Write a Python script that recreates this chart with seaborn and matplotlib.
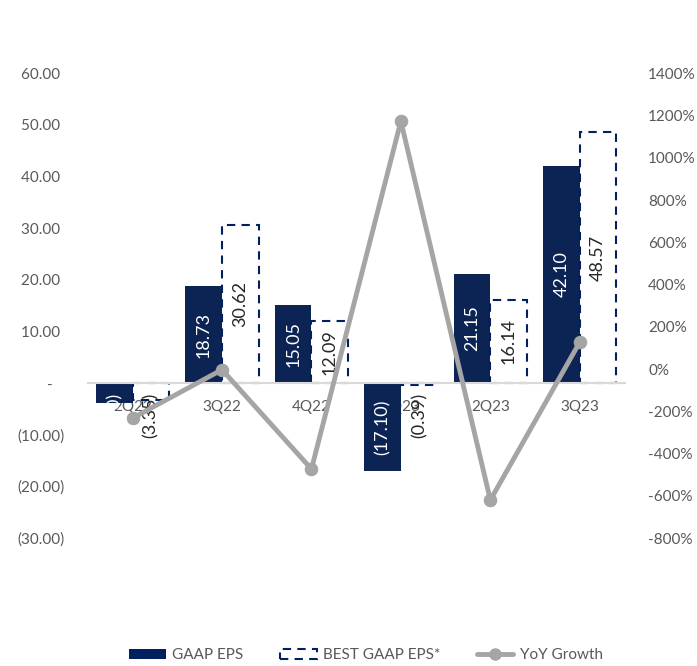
import pandas as pd
import numpy as np
import matplotlib.pyplot as plt
import seaborn as sns
from matplotlib.patches import Patch, Rectangle
from matplotlib.lines import Line2D

# chart data
quarters = ['2Q22', '3Q22', '4Q22', '1Q23', '2Q23', '3Q23']
gaap_eps = [-3.90, 18.73, 15.05, -17.10, 21.15, 42.10]
best_eps = [-3.35, 30.62, 12.09, -0.39, 16.14, 48.57]
yoy_growth = [-232, -3, -473, 1173, -620, 128]

left_ticks = [-30, -20, -10, 0, 10, 20, 30, 40, 50, 60]
right_ticks = [-800, -600, -400, -200, 0, 200, 400, 600, 800, 1000, 1200, 1400]

NAVY = '#002060'
GREY_LINE = '#A5A5A5'
TEXT = '#595959'

sns.set_style('white')
plt.rcParams['font.family'] = ['Lato', 'DejaVu Sans']
plt.rcParams['font.size'] = 11

df = pd.DataFrame({
    'quarter': quarters * 2,
    'eps': gaap_eps + best_eps,
    'series': ['GAAP EPS'] * 6 + ['BEST GAAP EPS*'] * 6,
})

fig = plt.figure(figsize=(6.97, 6.66), dpi=100)
ax = fig.add_axes([0.126, 0.192, 0.770, 0.698])

sns.barplot(data=df, x='quarter', y='eps', hue='series', order=quarters,
            hue_order=['GAAP EPS', 'BEST GAAP EPS*'],
            palette=[NAVY, NAVY], width=0.82, ax=ax, legend=False)

# restyle second series as dashed outline bars, label the bars
n = len(quarters)
for i, p in enumerate(ax.patches[:2 * n]):
    val = gaap_eps[i] if i < n else best_eps[i - n]
    if i >= n:
        p.set_facecolor('white')
        p.set_edgecolor(NAVY)
        p.set_linestyle((0, (4, 3)))
        p.set_linewidth(1.5)
        col = '#262626'
    else:
        p.set_edgecolor('none')
        col = 'white'
    txt = f'{val:.2f}' if val >= 0 else f'({abs(val):.2f})'
    xc = p.get_x() + p.get_width() / 2
    if abs(val) >= 8:
        # centred inside the bar
        ax.text(xc, val / 2, txt, rotation=90, ha='center', va='center',
                color=col, fontsize=13, zorder=5)
    else:
        # short bar: label hangs below the zero line
        ax.annotate(txt, (xc, 0), xytext=(0, -7), textcoords='offset points',
                    rotation=90, ha='center', va='top', color=col,
                    fontsize=13, zorder=5)

ax.set_ylim(-30, 60)
ax.set_xlim(-0.5, n - 0.5)
ax.set_yticks(left_ticks)


def left_fmt(v):
    if v == 0:
        return '-   '
    if v < 0:
        return f'({abs(v):.2f})'
    return f'{v:.2f} '


ax.set_yticklabels([left_fmt(v) for v in left_ticks])
ax.set_xlabel('')
ax.set_ylabel('')
for s in ['top', 'right', 'left']:
    ax.spines[s].set_visible(False)
ax.spines['bottom'].set_position(('data', 0))
ax.spines['bottom'].set_color('#D9D9D9')
ax.spines['bottom'].set_linewidth(1.5)
ax.tick_params(axis='x', length=0, pad=12, colors=TEXT, labelsize=11)
ax.tick_params(axis='y', length=0, pad=17, colors=TEXT, labelsize=11)

ax2 = ax.twinx()
sns.lineplot(x=np.arange(n), y=yoy_growth, ax=ax2, color=GREY_LINE,
             linewidth=3.5, marker='o', markersize=9,
             markeredgecolor=GREY_LINE, sort=False)
ax2.set_ylim(-800, 1400)
ax2.set_yticks(right_ticks)
ax2.set_yticklabels([f'{v}%' for v in right_ticks])
for s in ax2.spines.values():
    s.set_visible(False)
ax2.tick_params(axis='y', length=0, pad=17, colors=TEXT, labelsize=11)

handles = [
    Patch(facecolor=NAVY, edgecolor='none'),
    Rectangle((0, 0), 1, 1, facecolor='white', edgecolor=NAVY,
              linestyle=(0, (4, 3)), linewidth=1.5),
    Line2D([0], [0], color=GREY_LINE, linewidth=3.5, marker='o',
           markersize=8),
]
leg = fig.legend(handles, ['GAAP EPS', 'BEST GAAP EPS*', 'YoY Growth'],
                 loc='lower center', bbox_to_anchor=(0.525, -0.015), ncol=3,
                 frameon=False, fontsize=11, handlelength=2.4,
                 columnspacing=2.4, handletextpad=0.4)
for t in leg.get_texts():
    t.set_color(TEXT)

fig.savefig('out.png', dpi=100)
